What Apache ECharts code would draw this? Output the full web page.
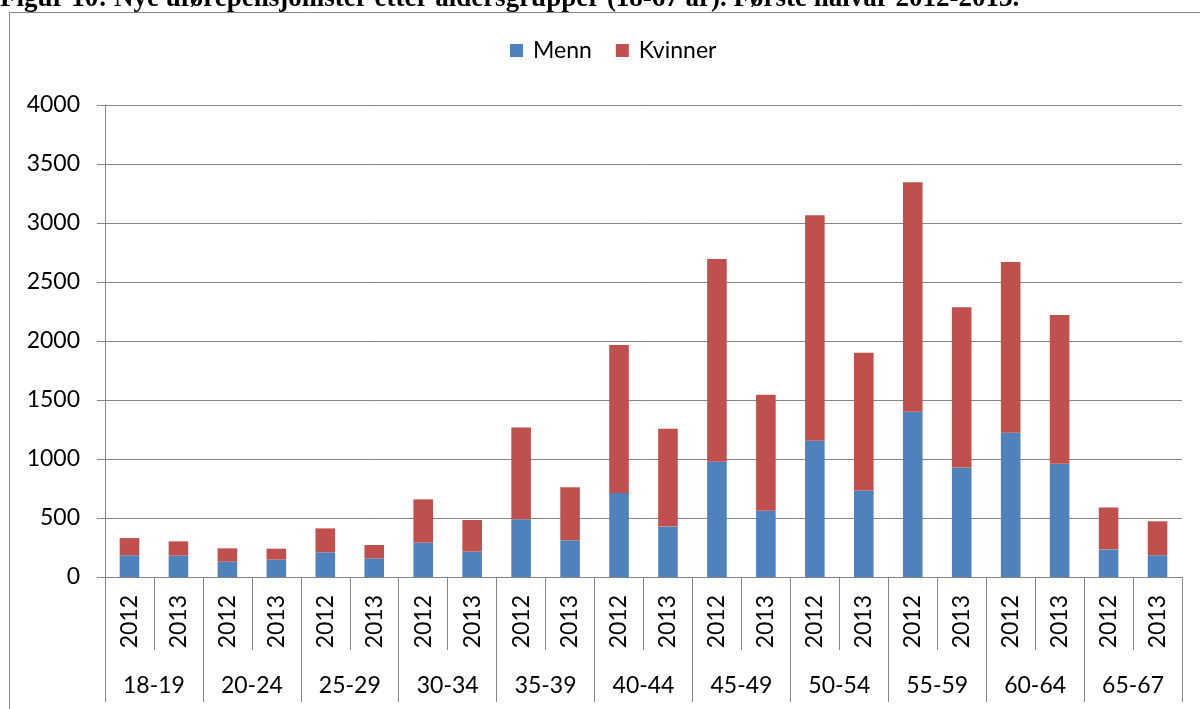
<!DOCTYPE html>
<html>
<head>
<meta charset="utf-8">
<script src="https://cdn.jsdelivr.net/npm/echarts@6/dist/echarts.min.js"></script>
<style>
  html, body { margin: 0; padding: 0; background: #fff; }
  #chart { width: 1200px; height: 709px; }
</style>
</head>
<body>
<div id="chart"></div>
<script>
var title = "Figur 10: Nye uførepensjonister etter aldersgrupper (18-67 år). Første halvår 2012-2013.";
var groups = ["18-19", "20-24", "25-29", "30-34", "35-39", "40-44", "45-49", "50-54", "55-59", "60-64", "65-67"];
var years = [];
groups.forEach(function () {
  years.push("2012", "2013");
});
// Menn (blå) og Kvinner (rød), lest av figuren
var menn = [184, 181, 130, 147, 209, 158, 291, 215, 489, 311, 712, 427, 977, 562, 1155, 732, 1401, 929, 1223, 960, 232, 184];
var kvinner = [146, 121, 113, 93, 203, 113, 367, 268, 779, 449, 1254, 830, 1718, 983, 1910, 1169, 1944, 1356, 1447, 1260, 356, 288];
var yTicks = [0, 500, 1000, 1500, 2000, 2500, 3000, 3500, 4000];

var lineColor = "#868686";
var font = "Lato, 'Open Sans', sans-serif";

var myChart = echarts.init(document.getElementById("chart"));
var option = {
  backgroundColor: "#fff",
  animation: false,
  graphic: [
    {
      type: "rect",
      shape: { x: 9.5, y: 12.5, width: 1300, height: 800 },
      style: { fill: "none", stroke: lineColor, lineWidth: 1 },
      z: -1,
    },
    {
      type: "text",
      x: 0,
      y: -1,
      style: {
        text: title,
        font: "bold 27px 'Liberation Serif', 'Times New Roman', serif",
        fill: "#000",
        verticalAlign: "middle",
      },
    },
  ],
  legend: {
    data: ["Menn", "Kvinner"],
    left: 510,
    top: 39,
    padding: 0,
    itemWidth: 13,
    itemHeight: 13,
    itemGap: 24,
    icon: "rect",
    textStyle: {
      fontFamily: font,
      fontSize: 23,
      color: "#000",
      padding: [0, 0, 0, 5],
    },
  },
  grid: {
    left: 105,
    right: 18,
    top: 105,
    bottom: 132,
  },
  xAxis: [
    {
      type: "category",
      data: years,
      position: "bottom",
      axisLine: { show: true, lineStyle: { color: lineColor, width: 1 } },
      axisTick: {
        show: true,
        interval: 0,
        length: 73,
        lineStyle: { color: lineColor },
      },
      axisLabel: {
        interval: 0,
        rotate: 90,
        margin: 18,
        fontFamily: font,
        fontSize: 23,
        color: "#000",
      },
    },
    {
      type: "category",
      data: groups,
      position: "bottom",
      axisLine: { show: false },
      axisTick: {
        show: true,
        interval: 0,
        length: 125,
        lineStyle: { color: lineColor },
      },
      axisLabel: {
        interval: 0,
        margin: 97,
        fontFamily: font,
        fontSize: 23,
        color: "#000",
      },
    },
  ],
  yAxis: {
    type: "value",
    min: yTicks[0],
    max: yTicks[yTicks.length - 1],
    interval: 500,
    axisLine: { show: true, lineStyle: { color: lineColor } },
    axisTick: { show: true, length: 8, lineStyle: { color: lineColor } },
    axisLabel: {
      margin: 25,
      fontFamily: font,
      fontSize: 23,
      color: "#000",
      formatter: function (value) {
        return String(value);
      },
    },
    splitLine: { lineStyle: { color: lineColor, width: 1 } },
  },
  series: [
    {
      name: "Menn",
      type: "bar",
      stack: "total",
      data: menn,
      barWidth: "40%",
      itemStyle: { color: "#4F81BD" },
    },
    {
      name: "Kvinner",
      type: "bar",
      stack: "total",
      data: kvinner,
      barWidth: "40%",
      itemStyle: { color: "#C0504D" },
    },
  ],
};
myChart.setOption(option, true);
window.addEventListener("resize", function () {
  myChart.resize();
});
</script>
</body>
</html>
